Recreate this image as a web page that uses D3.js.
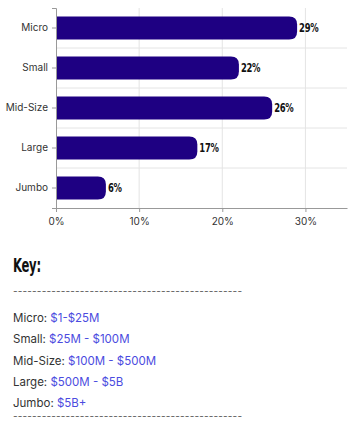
<!DOCTYPE html>
<html>
<head>
<meta charset="utf-8">
<script src="https://cdn.jsdelivr.net/npm/d3@7"></script>
<style>
  body { margin: 0; background: #fff; }
  #chart { width: 353px; height: 431px; }
  .label { font-family: "DejaVu Sans Condensed", "DejaVu Sans", sans-serif; font-stretch: condensed; font-weight: 700; letter-spacing: -0.4px; }
  .txt { font-family: "Inter", "Noto Sans", sans-serif; }
</style>
</head>
<body>
<div id="chart"></div>
<script>
// 分类
const categories = ['Micro', 'Small', 'Mid-Size', 'Large', 'Jumbo'];
// 百分比
const values = [29, 22, 26, 17, 6];
// x轴刻度
const xTicks = [0, 10, 20, 30];
// 图例
const keyNames = ['Micro:', 'Small:', 'Mid-Size:', 'Large:', 'Jumbo:'];
const keyRanges = ['$1-$25M', '$25M - $100M', '$100M - $500M', '$500M - $5B', '$5B+'];

const width = 353, height = 431;
const margin = { top: 8, right: 6, bottom: 0, left: 56 };
const plotH = 200;
// 窄体字横向压缩
const squeeze = 0.78;

const svg = d3.select('#chart').append('svg')
  .attr('width', width)
  .attr('height', height);

const x = d3.scaleLinear().domain([0, 35]).range([margin.left, width - margin.right]);
const y = d3.scaleBand().domain(categories).range([margin.top, margin.top + plotH]).paddingInner(0.42).paddingOuter(0.21);

// 网格
const grid = svg.append('g');
grid.selectAll('line.v')
  .data(xTicks.slice(1))
  .join('line')
  .attr('class', 'v')
  .attr('x1', d => x(d)).attr('x2', d => x(d))
  .attr('y1', margin.top).attr('y2', margin.top + plotH)
  .attr('stroke', '#e4e4e4');
grid.selectAll('line.h')
  .data(categories.slice(1))
  .join('line')
  .attr('class', 'h')
  .attr('x1', x(0)).attr('x2', width - margin.right)
  .attr('y1', d => y(d) - y.step() * y.paddingInner() / 2)
  .attr('y2', d => y(d) - y.step() * y.paddingInner() / 2)
  .attr('stroke', '#e4e4e4');

// 柱子 (右端圆角)
const r = 8;
svg.append('g').selectAll('path')
  .data(values)
  .join('path')
  .attr('fill', '#1e0082')
  .attr('d', (d, i) => {
    const x0 = x(0), x1 = x(d), y0 = y(categories[i]), h = y.bandwidth();
    const rr = Math.min(r, (x1 - x0) / 2);
    return `M${x0},${y0}H${x1 - rr}Q${x1},${y0} ${x1},${y0 + rr}V${y0 + h - rr}Q${x1},${y0 + h} ${x1 - rr},${y0 + h}H${x0}Z`;
  });

// 数值标签
svg.append('g').selectAll('text')
  .data(values)
  .join('text')
  .attr('class', 'label')
  .attr('transform', (d, i) => `translate(${x(d) + 2},${y(categories[i]) + y.bandwidth() / 2}) scale(${squeeze},1)`)
  .attr('dy', '0.36em')
  .attr('font-size', 12)
  .attr('fill', '#111')
  .text(d => d + '%');

// y轴
const yAxis = svg.append('g')
  .attr('transform', `translate(${x(0)},0)`)
  .call(d3.axisLeft(y).tickSize(4).tickPadding(4));
yAxis.select('.domain').attr('stroke', '#999');
yAxis.selectAll('line').attr('stroke', '#999');
yAxis.selectAll('text').attr('class', 'txt').attr('font-size', 10).attr('fill', '#333');

// x轴
const xAxis = svg.append('g')
  .attr('transform', `translate(0,${margin.top + plotH})`)
  .call(d3.axisBottom(x).tickValues(xTicks).tickFormat(d => d + '%').tickSize(4).tickPadding(6).tickSizeOuter(0));
xAxis.select('.domain').attr('stroke', '#999');
xAxis.selectAll('line').attr('stroke', '#999');
xAxis.selectAll('text').attr('class', 'txt').attr('font-size', 10).attr('fill', '#333');

// 图例
svg.append('text')
  .attr('class', 'label')
  .attr('transform', `translate(13,272) scale(0.68,1)`)
  .attr('font-size', 19)
  .attr('fill', '#111')
  .text('Key:');

const dashes = '-'.repeat(48);
[295, 420].forEach(yy => {
  svg.append('text')
    .attr('class', 'txt')
    .attr('x', 13).attr('y', yy)
    .attr('font-size', 10)
    .attr('fill', '#555')
    .attr('textLength', 229)
    .text(dashes);
});

const key = svg.append('g');
keyNames.forEach((name, i) => {
  const t = key.append('text')
    .attr('class', 'txt')
    .attr('x', 13)
    .attr('y', 322 + i * 21.3)
    .attr('font-size', 11.5);
  t.append('tspan').attr('fill', '#333').text(name + ' ');
  t.append('tspan').attr('fill', '#4b4be0').text(keyRanges[i]);
});
</script>
</body>
</html>
